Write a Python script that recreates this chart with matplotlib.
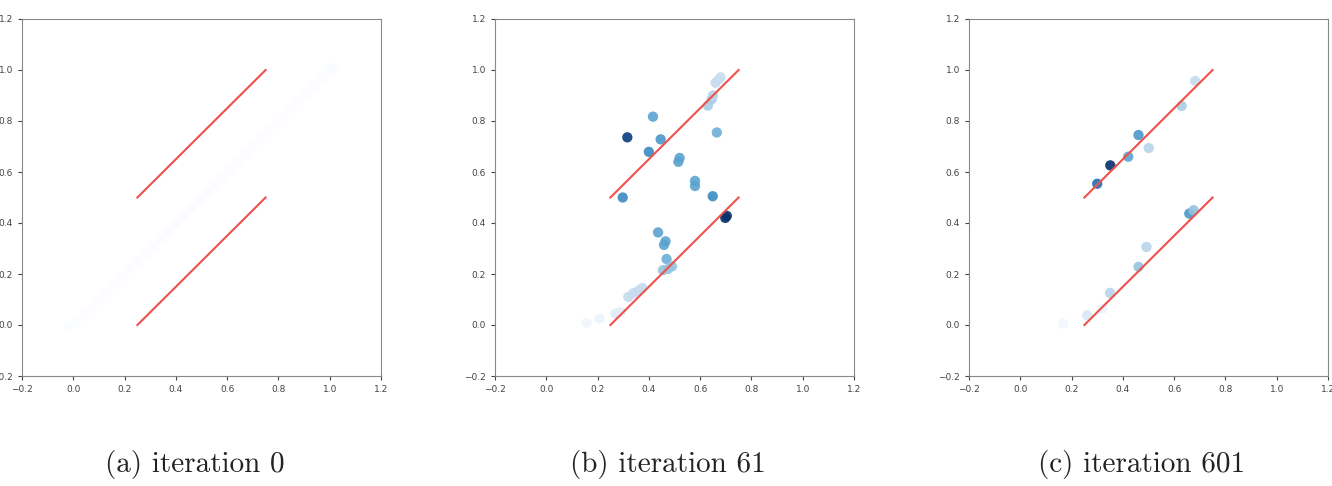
import matplotlib
matplotlib.use('Agg')
import matplotlib.pyplot as plt

# данні: панель (a) - ітерація 0, майже білі точки вздовж діагоналі
x0 = [-0.02, 0.01, 0.04, 0.07, 0.10, 0.13, 0.16, 0.19, 0.22, 0.25, 0.28,
      0.31, 0.34, 0.37, 0.40, 0.43, 0.46, 0.49, 0.52, 0.55, 0.58, 0.61,
      0.64, 0.67, 0.70, 0.73, 0.76, 0.79, 0.82, 0.85, 0.88, 0.91, 0.94,
      0.97, 1.00, 1.02]
y0 = [-0.01, 0.01, 0.04, 0.07, 0.10, 0.13, 0.16, 0.19, 0.22, 0.25, 0.28,
      0.31, 0.34, 0.37, 0.40, 0.43, 0.46, 0.49, 0.52, 0.55, 0.58, 0.61,
      0.64, 0.67, 0.70, 0.73, 0.76, 0.79, 0.82, 0.85, 0.88, 0.91, 0.94,
      0.97, 1.00, 1.01]
c0 = [0.0] * len(x0)

# панель (b) - ітерація 61
x1 = [0.316, 0.416, 0.446, 0.400, 0.298, 0.520, 0.515, 0.580, 0.580, 0.649,
      0.665, 0.630, 0.645, 0.650, 0.660, 0.675, 0.680, 0.698, 0.704, 0.436,
      0.459, 0.465, 0.469, 0.455, 0.475, 0.490, 0.320, 0.340, 0.360, 0.375,
      0.270, 0.290, 0.207, 0.157]
y1 = [0.736, 0.817, 0.728, 0.679, 0.500, 0.655, 0.640, 0.565, 0.545, 0.505,
      0.755, 0.860, 0.885, 0.900, 0.950, 0.965, 0.972, 0.420, 0.428, 0.363,
      0.314, 0.328, 0.259, 0.215, 0.220, 0.230, 0.110, 0.125, 0.135, 0.145,
      0.045, 0.050, 0.025, 0.008]
c1 = [0.95, 0.55, 0.60, 0.65, 0.65, 0.55, 0.55, 0.55, 0.55, 0.65,
      0.50, 0.35, 0.35, 0.30, 0.25, 0.25, 0.22, 1.00, 1.00, 0.55,
      0.55, 0.55, 0.50, 0.40, 0.40, 0.40, 0.25, 0.25, 0.25, 0.25,
      0.12, 0.10, 0.06, 0.03]

# панель (c) - ітерація 601
x2 = [0.300, 0.351, 0.421, 0.461, 0.501, 0.629, 0.682, 0.659, 0.676,
      0.492, 0.461, 0.350, 0.261, 0.320, 0.167]
y2 = [0.554, 0.626, 0.660, 0.745, 0.694, 0.859, 0.957, 0.437, 0.450,
      0.306, 0.228, 0.126, 0.038, 0.064, 0.005]
c2 = [0.75, 1.00, 0.55, 0.60, 0.30, 0.35, 0.25, 0.60, 0.40,
      0.30, 0.40, 0.30, 0.15, 0.06, 0.03]

# червоні відрізки
line_x = [0.25, 0.75]
line_upper = [0.5, 1.0]
line_lower = [0.0, 0.5]

captions = ['(a) iteration 0', '(b) iteration 61', '(c) iteration 601']
panels = [(x0, y0, c0), (x1, y1, c1), (x2, y2, c2)]
lefts = [22, 495, 969]

fig = plt.figure(figsize=(13.32, 4.86), dpi=100)

for i, (xs, ys, cs) in enumerate(panels):
    ax = fig.add_axes([lefts[i] / 1332, 110 / 486, 359 / 1332, 357 / 486])
    ax.scatter(xs, ys, c=cs, cmap='Blues', vmin=0, vmax=1, s=55,
               edgecolors='none', alpha=0.5 if i == 0 else 0.9, zorder=2)
    ax.plot(line_x, line_upper, color='#f0504a', linewidth=1.5, zorder=3)
    ax.plot(line_x, line_lower, color='#f0504a', linewidth=1.5, zorder=3)
    ax.set_xlim(-0.2, 1.2)
    ax.set_ylim(-0.2, 1.2)
    ticks = [-0.2, 0.0, 0.2, 0.4, 0.6, 0.8, 1.0, 1.2]
    ax.set_xticks(ticks)
    ax.set_yticks(ticks)
    ax.tick_params(labelsize=6.5, colors='#444444', length=3)
    for sp in ax.spines.values():
        sp.set_color('#888888')
    # підпис під панеллю
    fig.text((lefts[i] + 173) / 1332, 1 - 464 / 486, captions[i],
             family='cmr10', fontsize=21, ha='center', va='center',
             color='#222222')

fig.savefig('out.png', dpi=100)
